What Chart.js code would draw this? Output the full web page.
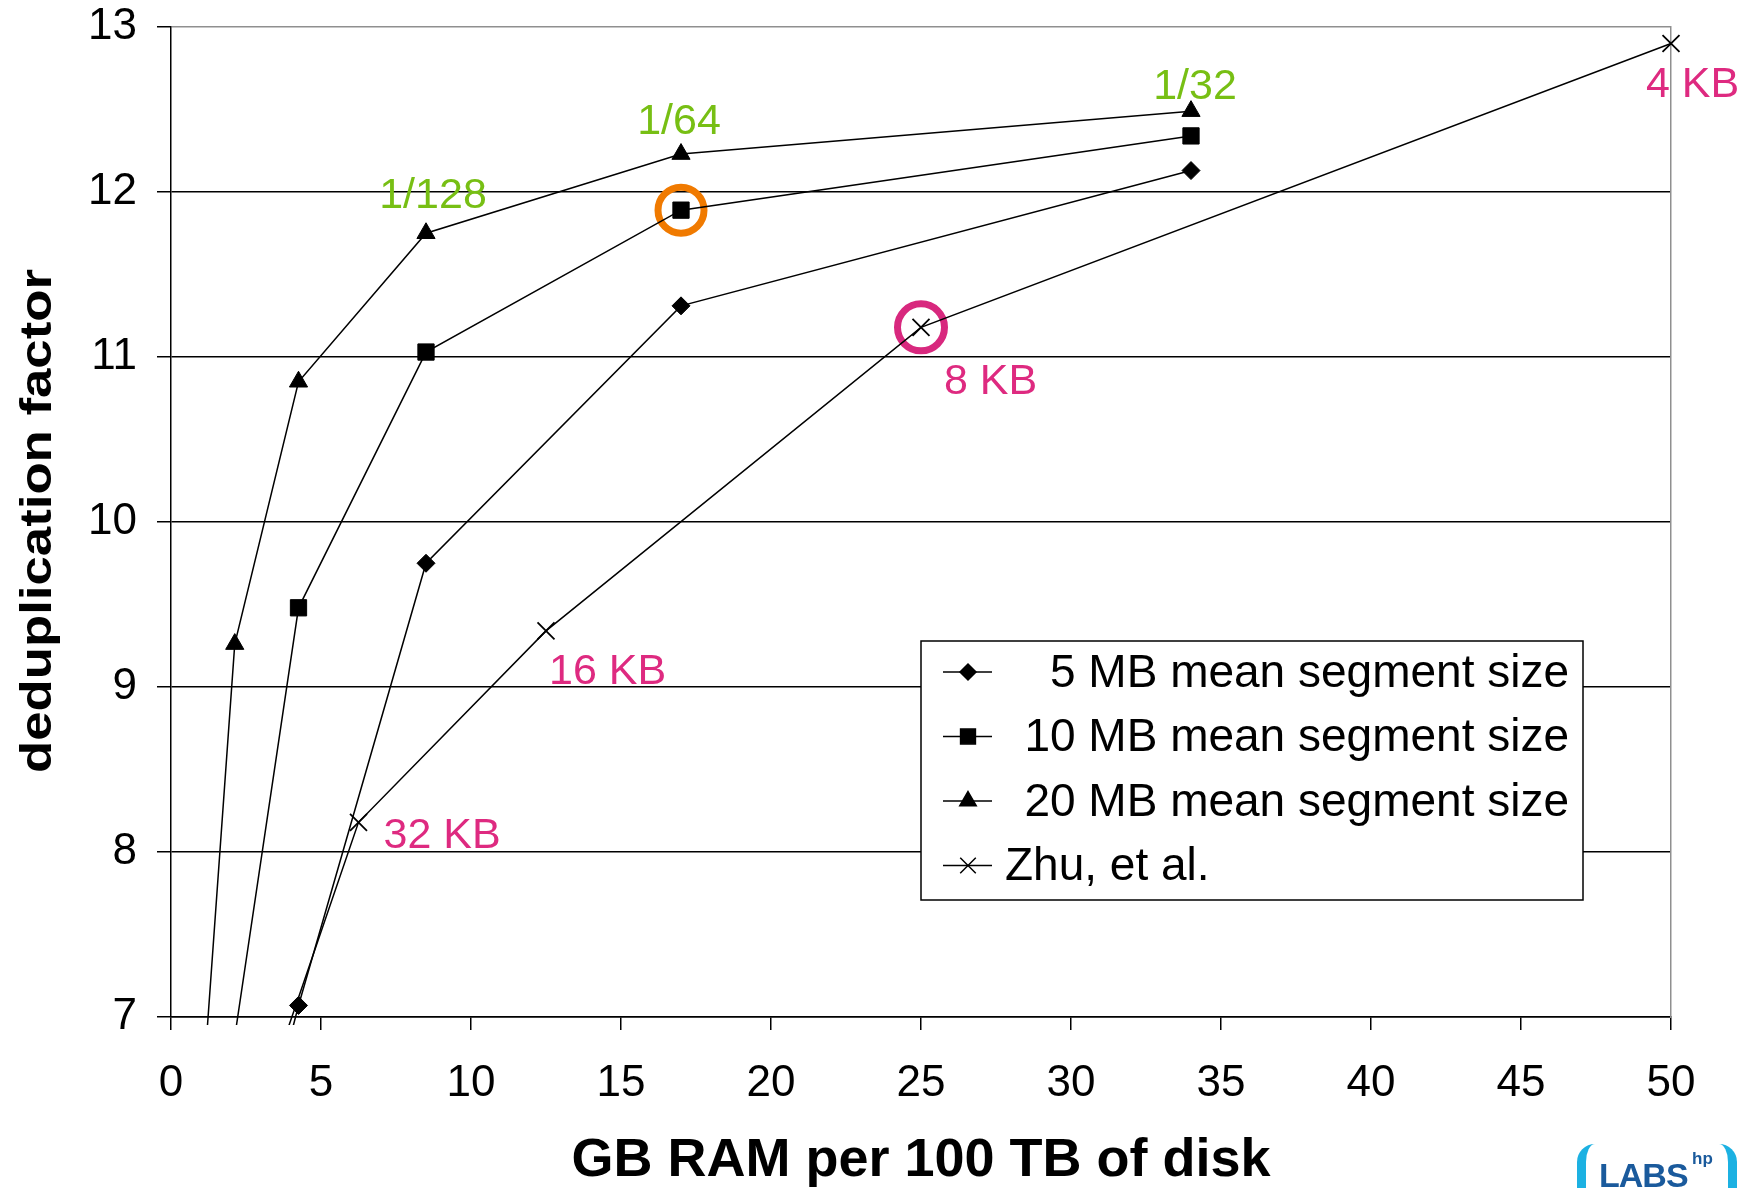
<!DOCTYPE html>
<html>
<head>
<meta charset="utf-8">
<script src="https://cdn.jsdelivr.net/npm/chart.js@4.4.0/dist/chart.umd.min.js"></script>
<style>
  body { margin: 0; background: #fff; overflow: hidden; }
  #wrap { position: relative; width: 1756px; height: 1188px; overflow: hidden; }
  .logo-br { position: absolute; left: 1577px; top: 1144px; width: 142px; height: 80px;
    border-left: 9px solid #1cb1e2; border-right: 9px solid #1cb1e2; border-radius: 18px; }
  .logo-txt { position: absolute; left: 1599px; top: 1156px; font: bold 34px "Liberation Sans", Arial, sans-serif;
    color: #1a5a9c; letter-spacing: -1px; }
  .logo-hp { position: absolute; left: 1692px; top: 1149px; font: bold 17px "Liberation Sans", Arial, sans-serif; color: #1a5a9c; }
</style>
</head>
<body>
<div id="wrap">
  <canvas id="dedupChart"></canvas>
  <div class="logo-br"></div>
  <div class="logo-txt">LABS</div>
  <div class="logo-hp">hp</div>
</div>
<script>
// --- Data ---
const xSeg = [2.125, 4.25, 8.5, 17, 34];
const xSeg20 = [1.0625, 2.125, 4.25, 8.5, 17, 34];
const dedup5MB = [5.57, 7.07, 9.75, 11.31, 12.13];
const dedup10MB = [6.88, 9.48, 11.03, 11.89, 12.34];
const dedup20MB = [6.56, 9.26, 10.85, 11.75, 12.23, 12.49];
const xZhu = [3.125, 6.25, 12.5, 25, 50];
const dedupZhu = [6.52, 8.18, 9.34, 11.18, 12.9];

const seriesNames = ['5 MB mean segment size', '10 MB mean segment size', '20 MB mean segment size', 'Zhu, et al.'];
const ratioLabels = ['1/128', '1/64', '1/32'];        // next to 20 MB points at x = 8.5, 17, 34
const chunkLabels = ['32 KB', '16 KB', '8 KB', '4 KB']; // next to Zhu points at x = 6.25 .. 50
const yTicks = [7, 8, 9, 10, 11, 12, 13];
const xTicks = [0, 5, 10, 15, 20, 25, 30, 35, 40, 45, 50];

const xTitle = 'GB RAM per 100 TB of disk';
const yTitle = 'deduplication factor';

const FONT = '"Liberation Sans", Arial, sans-serif';
const GREEN = '#77bf14';
const PINK = '#d8287e';
const ORANGE = '#f07a00';

function pts(xs, ys) { return xs.map((x, i) => ({ x: x, y: ys[i] })); }

const lineClip = { left: 0, top: 12, right: 12, bottom: 8 };

// draws labels, highlight text and the boxed legend inside the plot
const annotate = {
  id: 'annotate',
  afterDatasetsDraw(chart) {
    const { ctx, scales: { x, y } } = chart;
    ctx.save();
    ctx.font = '43px ' + FONT;
    ctx.textBaseline = 'alphabetic';

    // green ratio labels above the 20 MB triangles
    const rOff = [[7, -25], [-2, -20], [4, -12]];
    ctx.fillStyle = GREEN;
    ctx.textAlign = 'center';
    ratioLabels.forEach((t, i) => {
      const px = x.getPixelForValue(xSeg20[i + 3]);
      const py = y.getPixelForValue(dedup20MB[i + 3]);
      ctx.fillText(t, px + rOff[i][0], py + rOff[i][1]);
    });

    // pink chunk size labels next to Zhu points
    const cOff = [[25, 26], [3, 53], [23, 67], [-25, 53]];
    ctx.fillStyle = '#de2a80';
    ctx.textAlign = 'left';
    chunkLabels.forEach((t, i) => {
      const px = x.getPixelForValue(xZhu[i + 1]);
      const py = y.getPixelForValue(dedupZhu[i + 1]);
      ctx.fillText(t, px + cOff[i][0], py + cOff[i][1]);
    });

    // legend box
    const bx = 921, by = 641, bw = 662, bh = 259;
    ctx.fillStyle = '#fff';
    ctx.fillRect(bx, by, bw, bh);
    ctx.strokeStyle = '#000';
    ctx.lineWidth = 1.5;
    ctx.strokeRect(bx, by, bw, bh);
    ctx.font = '46px ' + FONT;
    ctx.textBaseline = 'middle';
    for (let i = 0; i < 4; i++) {
      const ds = chart.data.datasets[i];
      const cy = 672 + i * 64.5;
      ctx.strokeStyle = '#000';
      ctx.lineWidth = 1.5;
      ctx.beginPath();
      ctx.moveTo(943, cy);
      ctx.lineTo(992, cy);
      ctx.stroke();
      ctx.fillStyle = '#000';
      Chart.helpers.drawPoint(ctx, {
        pointStyle: ds.pointStyle, radius: ds.pointRadius - 1, borderWidth: ds.pointBorderWidth, rotation: 0
      }, 968, cy);
      ctx.fillStyle = '#000';
      if (i < 3) {
        ctx.textAlign = 'right';
        ctx.fillText(seriesNames[i], 1569, cy + 2);
      } else {
        ctx.textAlign = 'left';
        ctx.fillText(seriesNames[i], 1005, cy + 2);
      }
    }
    ctx.restore();
  },
  afterDraw(chart) {
    // condensed bold y title
    const ctx = chart.ctx;
    ctx.save();
    ctx.translate(39, 521);
    ctx.rotate(-Math.PI / 2);
    ctx.font = 'bold 45px ' + FONT;
    const w = ctx.measureText(yTitle).width;
    ctx.scale(504 / w, 1);
    ctx.textAlign = 'center';
    ctx.textBaseline = 'middle';
    ctx.fillStyle = '#000';
    ctx.fillText(yTitle, 0, 0);
    ctx.restore();
  }
};

const canvas = document.getElementById('dedupChart');
new Chart(canvas.getContext('2d'), {
  type: 'scatter',
  data: {
    datasets: [
      {
        label: seriesNames[0], data: pts(xSeg, dedup5MB), showLine: true,
        borderColor: '#000', borderWidth: 1.5, pointStyle: 'rectRot', pointRadius: 9,
        pointBackgroundColor: '#000', pointBorderColor: '#000', pointBorderWidth: 1, clip: lineClip
      },
      {
        label: seriesNames[1], data: pts(xSeg, dedup10MB), showLine: true,
        borderColor: '#000', borderWidth: 1.5, pointStyle: 'rect', pointRadius: 11.5,
        pointBackgroundColor: '#000', pointBorderColor: '#000', pointBorderWidth: 1, clip: lineClip
      },
      {
        label: seriesNames[2], data: pts(xSeg20, dedup20MB), showLine: true,
        borderColor: '#000', borderWidth: 1.5, pointStyle: 'triangle', pointRadius: 10.5,
        pointBackgroundColor: '#000', pointBorderColor: '#000', pointBorderWidth: 1, clip: lineClip
      },
      {
        label: seriesNames[3], data: pts(xZhu, dedupZhu), showLine: true,
        borderColor: '#000', borderWidth: 1.5, pointStyle: 'crossRot', pointRadius: 12,
        pointBackgroundColor: '#000', pointBorderColor: '#000', pointBorderWidth: 1.8, clip: lineClip
      },
      {
        label: 'highlight 10 MB', data: [{ x: xSeg[3], y: dedup10MB[3] }], showLine: false,
        pointStyle: 'circle', pointRadius: 23, pointBorderWidth: 7,
        pointBorderColor: ORANGE, pointBackgroundColor: 'rgba(0,0,0,0)', clip: false
      },
      {
        label: 'highlight Zhu', data: [{ x: xZhu[3], y: dedupZhu[3] }], showLine: false,
        pointStyle: 'circle', pointRadius: 23.5, pointBorderWidth: 7,
        pointBorderColor: PINK, pointBackgroundColor: 'rgba(0,0,0,0)', clip: false
      }
    ]
  },
  options: {
    responsive: true,
    maintainAspectRatio: false,
    animation: false,
    events: [],
    layout: { autoPadding: false, padding: { top: 27, right: 85, bottom: 0, left: 0 } },
    scales: {
      x: {
        type: 'linear', min: 0, max: 50,
        afterBuildTicks: s => { s.ticks = xTicks.map(v => ({ value: v })); },
        afterFit: s => { s.height = 171; },
        grid: { drawOnChartArea: false, drawTicks: true, tickLength: 13, tickColor: '#000', lineWidth: 1.5 },
        border: { color: '#000', width: 1.5 },
        ticks: { color: '#000', font: { family: FONT, size: 44 }, padding: 27, maxRotation: 0 },
        title: { display: true, text: xTitle, color: '#000',
          font: { family: FONT, size: 54, weight: 'bold', lineHeight: 1 }, padding: { top: 0, bottom: 0 } }
      },
      y: {
        type: 'linear', min: 7, max: 13,
        afterBuildTicks: s => { s.ticks = yTicks.map(v => ({ value: v })); },
        afterFit: s => { s.width = 171; },
        grid: {
          color: c => (c.tick && c.tick.value === 13 ? '#8f8f8f' : '#000'),
          lineWidth: 1.5, tickLength: 14, tickColor: '#000'
        },
        border: { color: '#000', width: 1.5 },
        ticks: { color: '#000', font: { family: FONT, size: 44, lineHeight: 0.1 }, padding: 20 }
      },
      y2: {
        type: 'linear', position: 'right', display: true,
        afterFit: s => { s.width = 0; },
        grid: { display: false, drawTicks: false },
        ticks: { display: false },
        border: { color: '#8f8f8f', width: 1.5 }
      }
    },
    plugins: {
      legend: { display: false },
      tooltip: { enabled: false }
    }
  },
  plugins: [annotate]
});
document.getElementById('dedupChart').parentNode.style.height = '1188px';
</script>
</body>
</html>
